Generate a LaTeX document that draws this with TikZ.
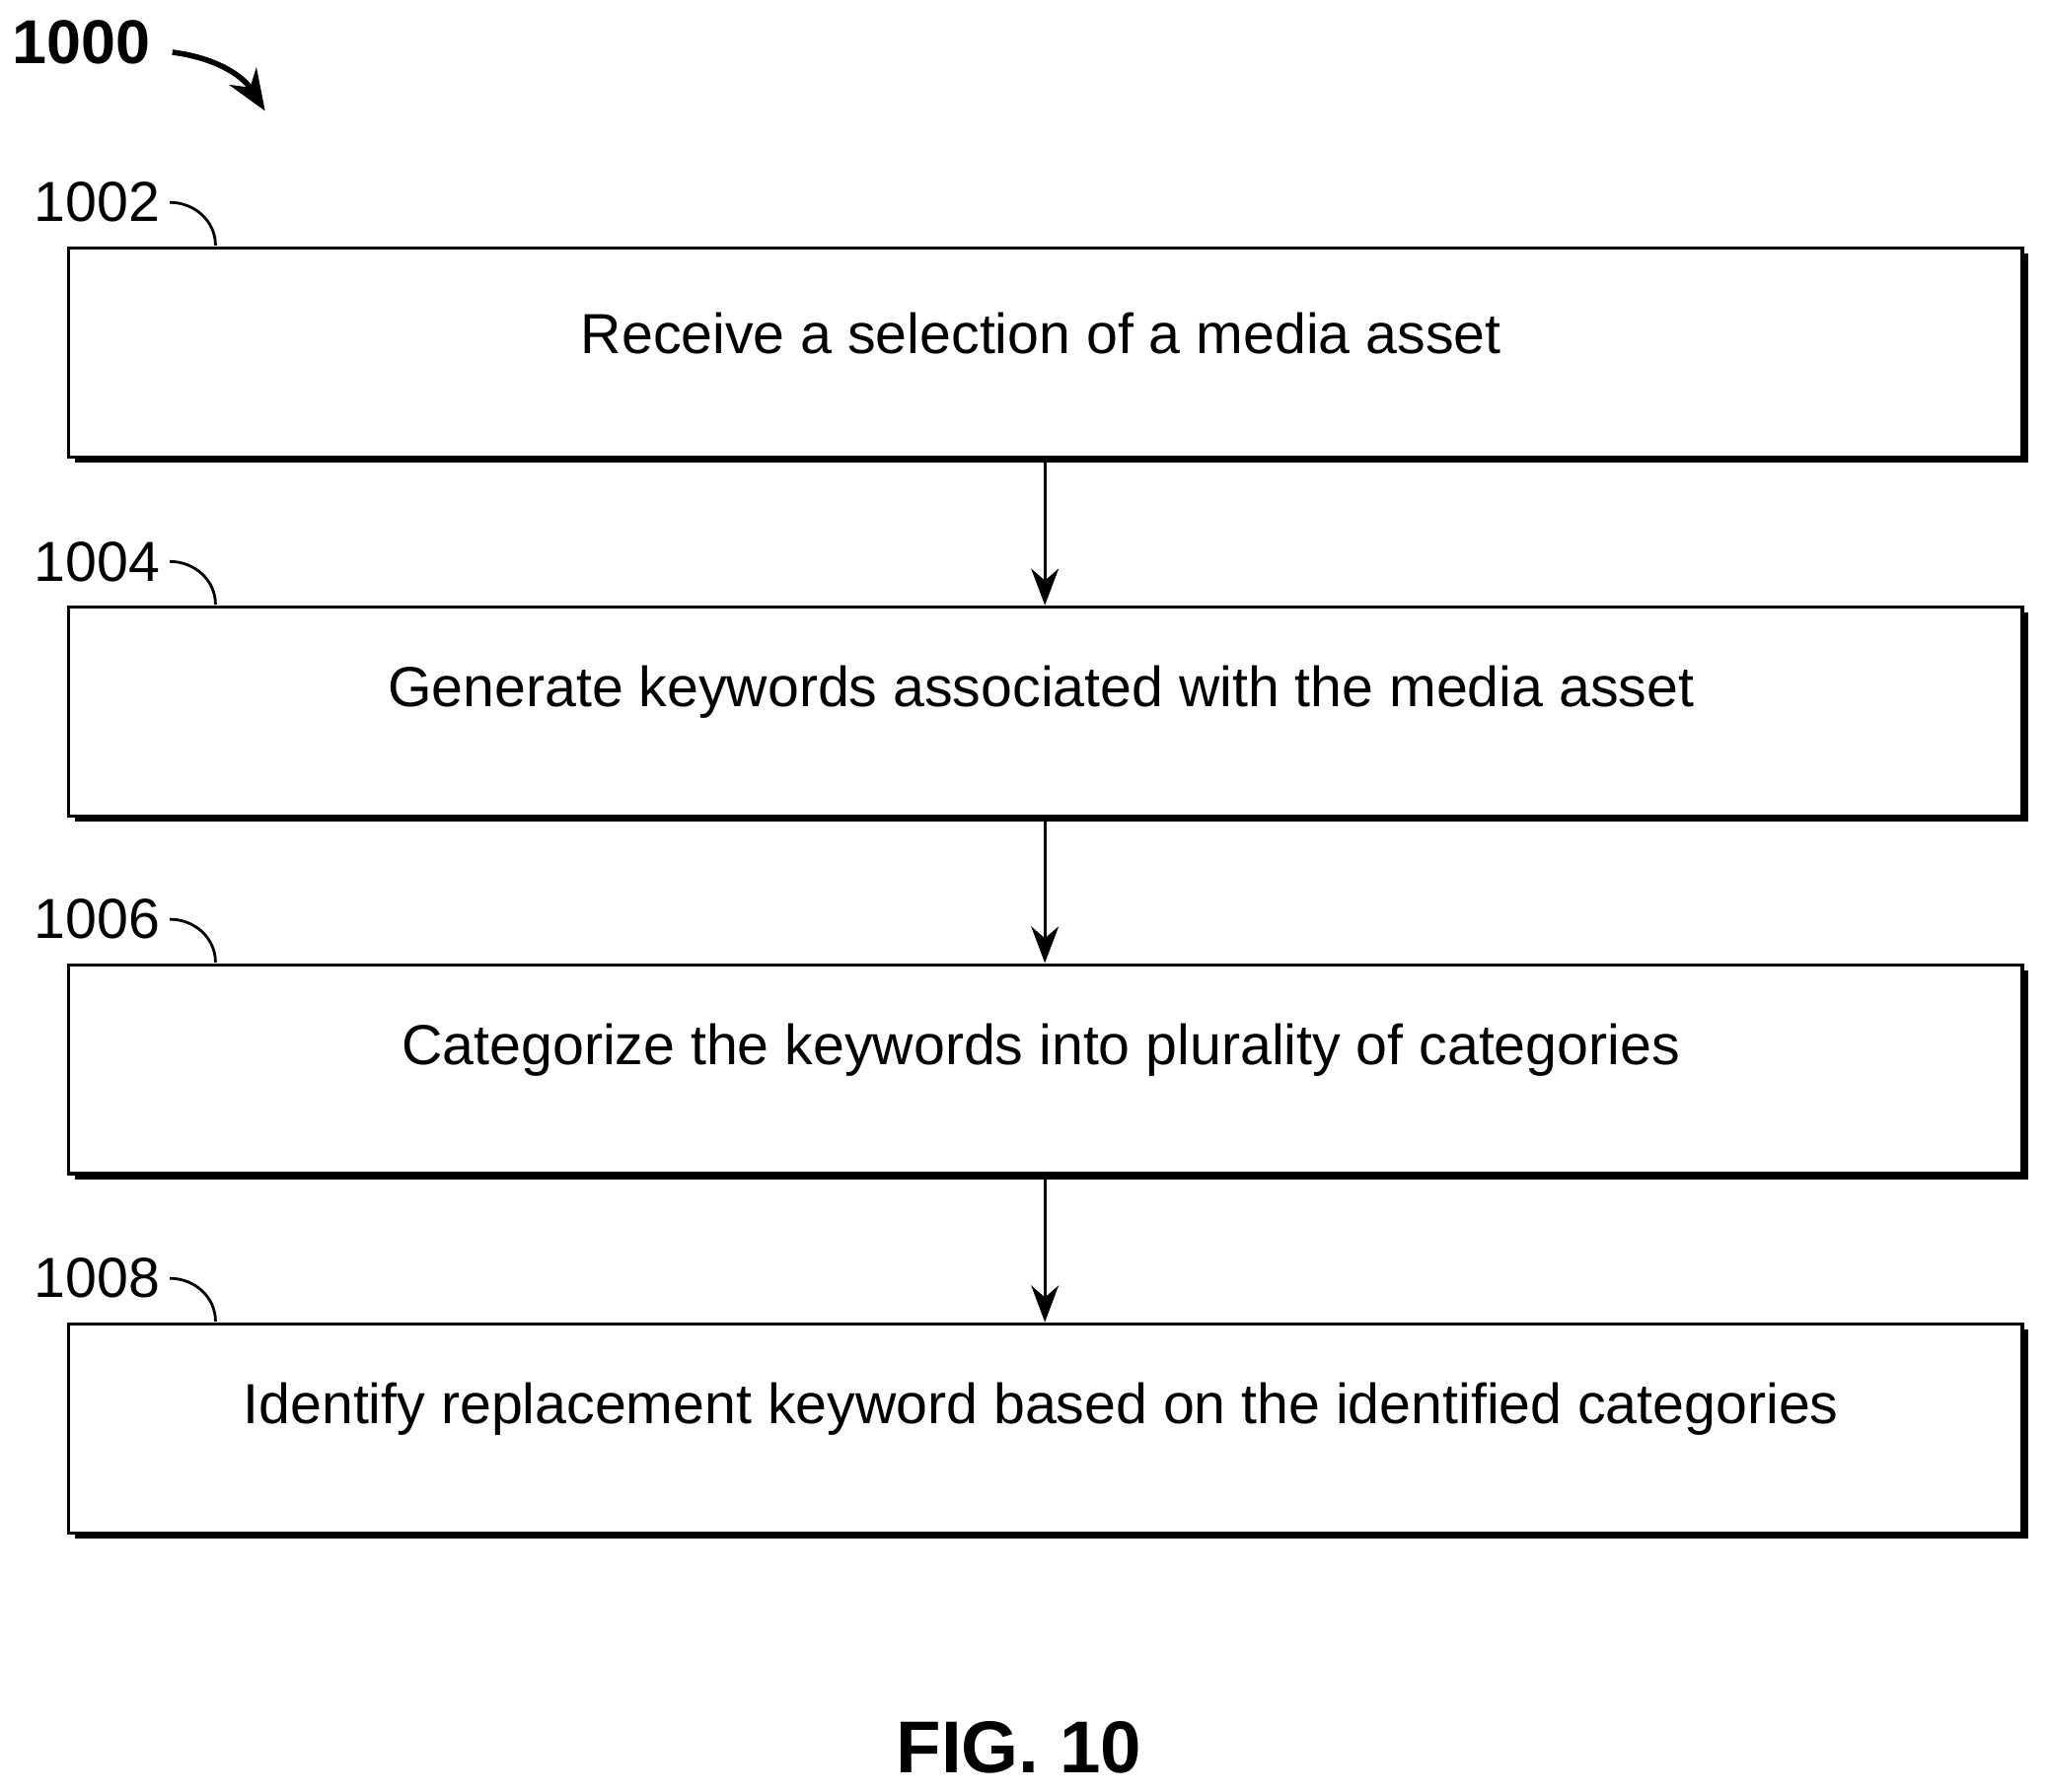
\documentclass[tikz,border=0pt]{standalone}
\usepackage{fontspec}
\setmainfont{Liberation Sans}
\usetikzlibrary{positioning,arrows.meta}
\begin{document}
\begin{tikzpicture}[x=0.01cm, y=-0.01cm, thick]
	\tikzstyle{stepbox}  = [draw=black, fill=white, minimum width=14.95cm, minimum height=1.6cm, inner sep=0pt]
	\tikzstyle{steptext} = [inner sep=0pt, font=\fontsize{12.3}{15}\selectfont]
	\tikzstyle{shade} = [fill=black, minimum width=14.95cm, minimum height=1.6cm, inner sep=0pt]
	\tikzstyle{refnum} = [font=\fontsize{12.3}{15}\selectfont, inner sep=0pt]
	\tikzstyle{flow} = [-{Stealth[length=8pt, width=6pt]}, semithick]

	\useasboundingbox (0,0) rectangle (1568,1372);

	\node[font=\bfseries\fontsize{13.5}{16}\selectfont, inner sep=0pt] (fig) at (62,32) {1000};
	\coordinate (figA) at (132,40);
	\coordinate (figB) at (203,85);
	\draw[-{Stealth[length=9pt, width=7pt]}, very thick] (figA) to[bend left=25] (figB);

	\foreach \name/\num/\y/\txt in {s1/1002/270/Receive a selection of a media asset,
		s2/1004/545/Generate keywords associated with the media asset,
		s3/1006/819/Categorize the keywords into plurality of categories,
		s4/1008/1094/Identify replacement keyword based on the identified categories}
	{
		\node[shade] at (805,\y+4) {};
		\node[stepbox] (\name) at (800.5,\y) {};
		\node[steptext] (\name txt) at (797,\y-15) {\txt};
		\node[refnum, anchor=east] (\name lbl) at (124,\y-115) {\num};
		\draw[semithick] (\name lbl.east) ++(6,0) to[out=0, in=90] (165,\y-82);
	}

	\foreach \from/\to in {s1/s2, s2/s3, s3/s4}
		\draw[flow] (\from.south -| 800,0) -- (\to.north -| 800,0);

	\node[font=\bfseries\fontsize{16}{19}\selectfont, inner sep=0pt] (caption) at (780,1338) {FIG. 10};
\end{tikzpicture}
\end{document}
